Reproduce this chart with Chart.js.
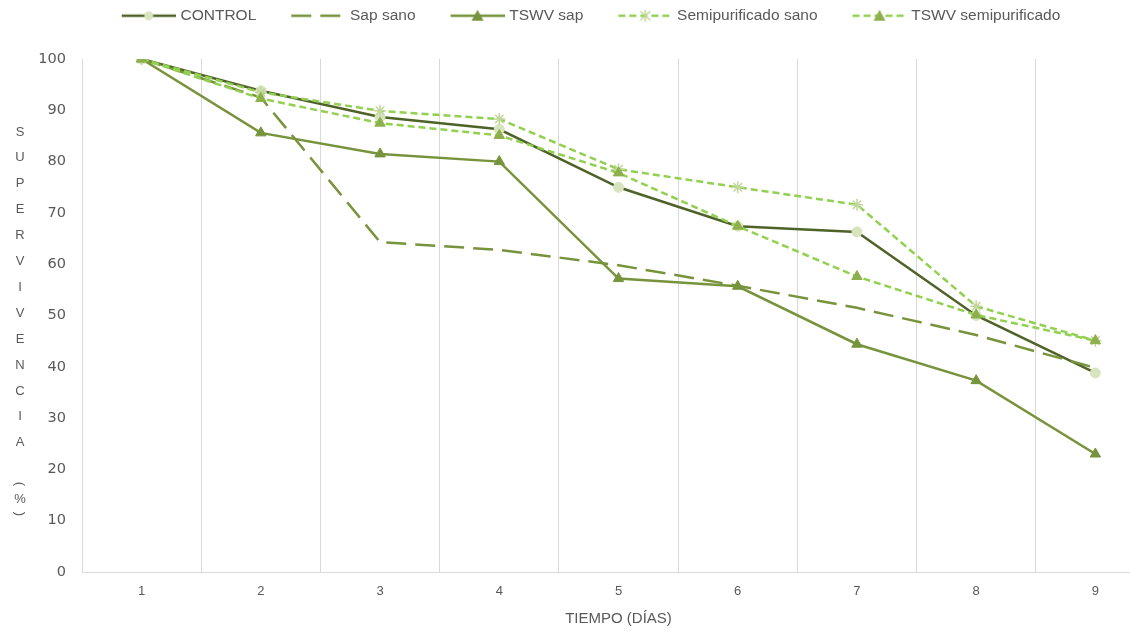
<!DOCTYPE html>
<html>
<head>
<meta charset="utf-8">
<script src="https://cdn.jsdelivr.net/npm/chart.js@4.4.1/dist/chart.umd.min.js"></script>
<style>
html, body { margin: 0; padding: 0; background: #fff; overflow: hidden; }
#wrap { width: 1176px; height: 632px; }
</style>
</head>
<body>
<div id="wrap"><canvas id="survChart" width="1176" height="632"></canvas></div>
<script>
// datos
var dias = ['1', '2', '3', '4', '5', '6', '7', '8', '9'];
var control = [100, 93.8, 88.7, 86.3, 75, 67.4, 66.3, 50, 38.8];
var sapSano = [100, 92.5, 64.3, 62.8, 59.8, 55.8, 51.5, 46.2, 39.8];
var tswvSap = [100, 85.6, 81.5, 80, 57.2, 55.7, 44.4, 37.3, 23];
var semiSano = [100, 93.5, 89.9, 88.3, 78.5, 75, 71.6, 51.8, 45.1];
var tswvSemi = [100, 92.3, 87.5, 85.1, 77.8, 67.4, 57.6, 50.1, 45.1];
var nombres = ['CONTROL', 'Sap sano', 'TSWV sap', 'Semipurificado sano', 'TSWV semipurificado'];
var yMin = 0, yMax = 100, yStep = 10;
var tituloY = 'SUPERVIVENCIA';
var tituloX = 'TIEMPO (DÍAS)';

var gris = '#595959';
var fuente = '"Liberation Sans", Arial, sans-serif';

// muestra de leyenda: hueco a la izquierda + linea + marcador
function muestra(color, dash, estilo, relleno, borde) {
  var c = document.createElement('canvas');
  c.width = 84; c.height = 14;
  var g = c.getContext('2d');
  var x0 = 30, x1 = 84, xm = 57;
  g.strokeStyle = color; g.lineWidth = 2.5; g.setLineDash(dash);
  g.beginPath(); g.moveTo(x0, 7); g.lineTo(x1, 7); g.stroke();
  g.setLineDash([]);
  if (estilo === 'circle') {
    g.fillStyle = relleno;
    g.beginPath(); g.arc(xm, 7, 4.5, 0, Math.PI * 2); g.fill();
  } else if (estilo === 'triangle') {
    g.fillStyle = relleno;
    g.beginPath(); g.moveTo(xm, 1); g.lineTo(xm + 6, 12); g.lineTo(xm - 6, 12); g.closePath(); g.fill();
  } else if (estilo === 'star') {
    g.strokeStyle = borde; g.lineWidth = 1.5;
    g.beginPath();
    g.moveTo(xm, 1); g.lineTo(xm, 13);
    g.moveTo(xm - 5, 2.5); g.lineTo(xm + 5, 11.5);
    g.moveTo(xm + 5, 2.5); g.lineTo(xm - 5, 11.5);
    g.stroke();
  }
  return c;
}

var series = [
  { label: nombres[0], data: control, borderColor: '#4F6228', borderDash: [], pointStyle: 'circle',
    pointBackgroundColor: '#D7E4BD', pointBorderColor: '#D7E4BD', pointRadius: 5, order: 5 },
  { label: nombres[1], data: sapSano, borderColor: '#77933C', borderDash: [20, 9], pointStyle: false,
    pointBackgroundColor: '#77933C', pointBorderColor: '#77933C', pointRadius: 0, order: 4 },
  { label: nombres[2], data: tswvSap, borderColor: '#77933C', borderDash: [], pointStyle: 'triangle',
    pointBackgroundColor: '#77933C', pointBorderColor: '#77933C', pointRadius: 6, order: 3 },
  { label: nombres[3], data: semiSano, borderColor: '#92D050', borderDash: [7, 4], pointStyle: 'star',
    pointBackgroundColor: '#C3D69B', pointBorderColor: '#C3D69B', pointRadius: 6, order: 2 },
  { label: nombres[4], data: tswvSemi, borderColor: '#92D050', borderDash: [7, 4], pointStyle: 'triangle',
    pointBackgroundColor: '#8DB04C', pointBorderColor: '#8DB04C', pointRadius: 6, order: 1 }
];
series.forEach(function(s) {
  s.borderWidth = 2.5;
  s.pointBorderWidth = s.pointStyle === 'star' ? 1.5 : 1;
  s.pointHoverRadius = s.pointRadius;
  s.tension = 0;
  s.fill = false;
  s.swatch = muestra(s.borderColor, s.borderDash, s.pointStyle, s.pointBackgroundColor, s.pointBorderColor);
});

// letras apiladas del titulo Y
var letrasY = {
  id: 'letrasY',
  afterDraw: function(chart) {
    var ctx = chart.ctx;
    ctx.save();
    ctx.fillStyle = gris;
    ctx.font = '13px ' + fuente;
    ctx.textAlign = 'center';
    ctx.textBaseline = 'middle';
    for (var i = 0; i < tituloY.length; i++) {
      ctx.fillText(tituloY[i], 20, 132 + i * 25.9);
    }
    ctx.translate(20, 484); ctx.rotate(Math.PI / 2); ctx.fillText('(', 0, 0);
    ctx.restore();
    ctx.save();
    ctx.fillStyle = gris; ctx.font = '13px ' + fuente;
    ctx.textAlign = 'center'; ctx.textBaseline = 'middle';
    ctx.fillText('%', 20, 499);
    ctx.translate(20, 514); ctx.rotate(Math.PI / 2); ctx.fillText(')', 0, 0);
    ctx.restore();
  }
};

var altoLeyenda = {
  id: 'altoLeyenda',
  beforeInit: function(chart) {
    var fit = chart.legend.fit;
    chart.legend.fit = function() {
      fit.call(this);
      this.height = 59;
    };
  }
};

var survCtx = document.getElementById('survChart').getContext('2d');
var survChart = new Chart(survCtx, {
  type: 'line',
  data: { labels: dias, datasets: series },
  plugins: [letrasY, altoLeyenda],
  options: {
    responsive: false,
    animation: false,
    layout: { padding: { left: 0, right: 21, top: 0, bottom: 0 } },
    plugins: {
      tooltip: { enabled: false },
      legend: {
        position: 'top',
        labels: {
          usePointStyle: true,
          pointStyleWidth: 78,
          padding: 8,
          color: gris,
          font: { family: fuente, size: 15.5 },
          generateLabels: function(chart) {
            return chart.data.datasets.map(function(d, i) {
              return { text: d.label, pointStyle: d.swatch, fillStyle: d.borderColor,
                       strokeStyle: d.borderColor, lineWidth: 0, hidden: false, datasetIndex: i, fontColor: gris };
            });
          }
        }
      }
    },
    scales: {
      x: {
        offset: true,
        grid: { offset: true, color: '#D9D9D9', lineWidth: 1, drawTicks: false },
        border: { color: '#D9D9D9' },
        ticks: { color: gris, padding: 12, font: { family: fuente, size: 13 } },
        title: { display: true, text: tituloX, color: gris, padding: { top: 4, bottom: 4 },
                 font: { family: fuente, size: 15 } },
        afterFit: function(scale) { scale.height = 60; }
      },
      y: {
        min: yMin, max: yMax,
        grid: { display: false, drawTicks: false },
        border: { display: false },
        ticks: { stepSize: yStep, color: gris, padding: 16, font: { family: '"DejaVu Sans", sans-serif', size: 14.5 } },
        afterFit: function(scale) { scale.width = 82; }
      }
    }
  }
});
</script>
</body>
</html>
